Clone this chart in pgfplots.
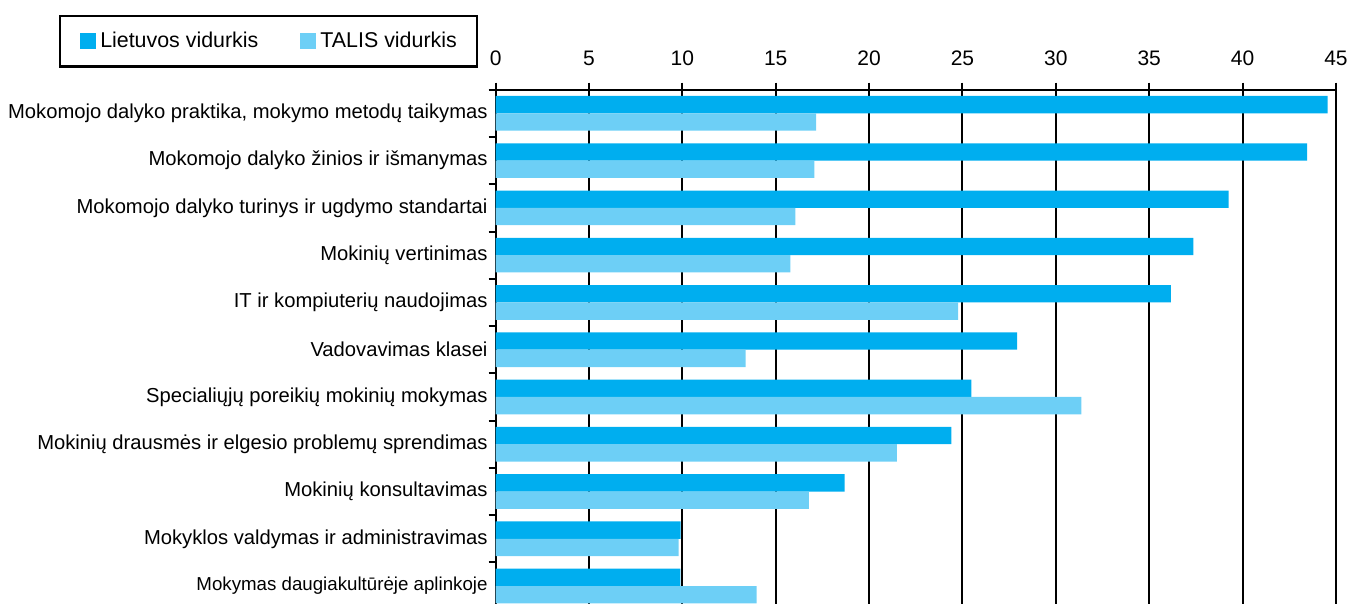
\documentclass[border=0pt]{standalone}
\usepackage{fontspec}
\setmainfont{Liberation Sans}
\usepackage{pgfplots}
\pgfplotsset{compat=1.18}
\definecolor{darkb}{RGB}{0,174,239}
\definecolor{lightb}{RGB}{109,207,246}
\begin{document}
\begin{tikzpicture}[font=\fontsize{10.1}{12}\selectfont]
\path[use as bounding box] (-247.8pt,2.85pt) rectangle (426.7pt,304.85pt);
\begin{axis}[
  at={(0pt,0pt)}, anchor=south west,
  scale only axis, width=420.2pt, height=260pt,
  xmin=0, xmax=45, ymin=-0.5, ymax=10.5, y dir=reverse,
  axis x line=top, axis y line=left,
  axis line style={-, line width=1pt, black},
  xtick={0,5,...,45},
  ytick={-0.5,0.5,...,10.5},
  y tick label as interval,
  yticklabels={Mokomojo dalyko praktika{,} mokymo metodų taikymas,
    Mokomojo dalyko žinios ir išmanymas,
    Mokomojo dalyko turinys ir ugdymo standartai,
    Mokinių vertinimas,
    IT ir kompiuterių naudojimas,
    Vadovavimas klasei,
    Specialiųjų poreikių mokinių mokymas,
    Mokinių drausmės ir elgesio problemų sprendimas,
    Mokinių konsultavimas,
    Mokyklos valdymas ir administravimas,
    {\fontsize{9.35}{11}\selectfont Mokymas daugiakultūrėje aplinkoje}},
  tick align=outside, major tick length=3.5pt,
  tick style={black, line width=1pt},
  xmajorgrids, grid style={black, line width=1pt},
  xbar=0pt, bar width=8.67pt,
  /pgf/number format/assume math mode=true,
  xticklabel style={font=\fontsize{10.5}{12.6}\selectfont, yshift=5pt},
  yticklabel style={font=\fontsize{10.1}{12}\selectfont, xshift=3pt},
  legend style={at={(axis description cs:-0.5195,1.1437)}, anchor=north west,
    draw=black, line width=1.25pt, legend columns=2,
    font=\fontsize{10.7}{12.8}\selectfont,
    inner xsep=10pt, inner ysep=8pt, nodes={inner sep=0pt},
    /tikz/every even column/.append style={column sep=21pt},
    /tikz/every odd column/.append style={column sep=2pt}},
  legend image code/.code={\fill[#1,draw=none] (0pt,-4pt) rectangle (8pt,4pt);},
]
\addplot[fill=darkb, draw=none, bar shift=4.335pt] coordinates {
  (44.55,0) (43.46,1) (39.25,2) (37.36,3) (36.16,4) (27.92,5)
  (25.47,6) (24.40,7) (18.69,8) (9.91,9) (9.89,10)};
\addplot[fill=lightb, draw=none, bar shift=-4.335pt] coordinates {
  (17.16,0) (17.07,1) (16.05,2) (15.78,3) (24.76,4) (13.39,5)
  (31.36,6) (21.49,7) (16.78,8) (9.80,9) (13.98,10)};
\legend{Lietuvos vidurkis, TALIS vidurkis}
\end{axis}
\end{tikzpicture}
\end{document}
